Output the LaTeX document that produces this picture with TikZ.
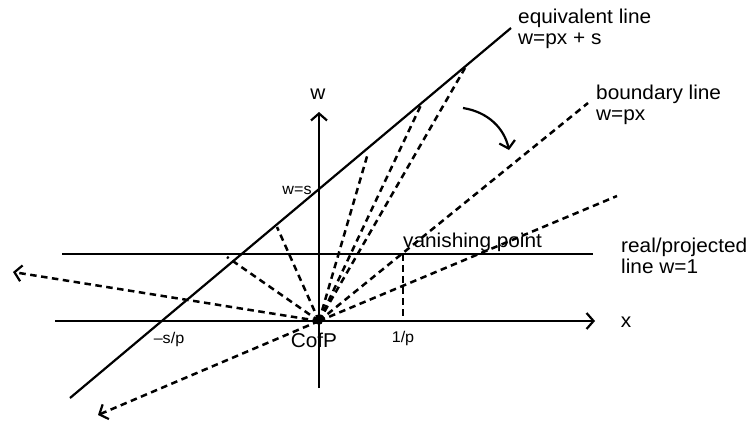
\documentclass[tikz,border=0pt]{standalone}
\usepackage{fontspec}
\setmainfont{Liberation Sans}[FakeStretch=1.04]
\usetikzlibrary{arrows.meta}
\begin{document}
\begin{tikzpicture}[x=1pt,y=-1pt,
  solidline/.style={line width=2.2pt},
  dashline/.style={line width=2.5pt,dash pattern=on 6.5pt off 4.5pt},
  tip/.style={-{Straight Barb[length=7pt,width=16pt,line width=2.2pt]}},
  biglabel/.style={inner sep=0pt,font=\fontsize{20}{21}\selectfont,align=left},
  smalllabel/.style={inner sep=0pt,font=\fontsize{15.5}{17}\selectfont}]
\useasboundingbox (0,0) rectangle (751,421);
% key points
\coordinate (O) at (319,321);
\coordinate (xl) at (55,321);
\coordinate (xr) at (595,321);
\coordinate (wb) at (319,388);
\coordinate (wt) at (319,112);
\coordinate (ul) at (62,254);
\coordinate (ur) at (593,254);
\coordinate (el) at (70,398);
\coordinate (er) at (511,28);
\coordinate (vp) at (403,254);
\coordinate (vpx) at (403,321);
\coordinate (r1) at (13,272);
\coordinate (r2) at (98,415);
\coordinate (r3) at (617,196);
\coordinate (r4) at (588,103);
\coordinate (r5) at (465,68);
\coordinate (r6) at (421,105);
\coordinate (r7) at (368,153);
\coordinate (r8) at (277,227);
\coordinate (r9) at (227,257);
\coordinate (ca) at (463,108);
\coordinate (cb) at (509,150);
% axes and lines
\draw[solidline,tip] (xl) -- (xr);
\draw[solidline,tip] (wb) -- (wt);
\draw[solidline] (ul) -- (ur);
\draw[solidline] (el) -- (er);
% dashed rays
\draw[dashline,tip] (O) -- (r1);
\draw[dashline,tip] (O) -- (r2);
\foreach \r in {r3,r4,r5,r6,r7,r8,r9}{\draw[dashline] (O) -- (\r);}
\draw[dashline] (vp) -- (vpx);
% curved arrow
\draw[solidline,tip] (ca) .. controls (488,112) and (504,128) .. (cb);
% centre of projection
\fill (O) circle (3.8pt);
% labels
\node[biglabel,anchor=north west] (leq) at (518,9) {equivalent line\\w=px + s};
\node[biglabel,anchor=north west] (lbd) at (596,85) {boundary line\\w=px};
\node[biglabel,anchor=north west] (lre) at (621,238) {real/projected\\line w=1};
\node[biglabel,anchor=base west] (lvp) at (403,247) {vanishing point};
\node[biglabel,anchor=base] (lcp) at (314,347) {CofP};
\node[biglabel,anchor=base] (lx) at (626,327) {x};
\node[biglabel,anchor=base] (lw) at (318,99) {w};
\node[smalllabel,anchor=base] (lp) at (403,342) {1/p};
\node[smalllabel,anchor=base] (lsp) at (169,343) {–s/p};
\node[smalllabel,anchor=base] (lws) at (297,194) {w=s};
\end{tikzpicture}
\end{document}
